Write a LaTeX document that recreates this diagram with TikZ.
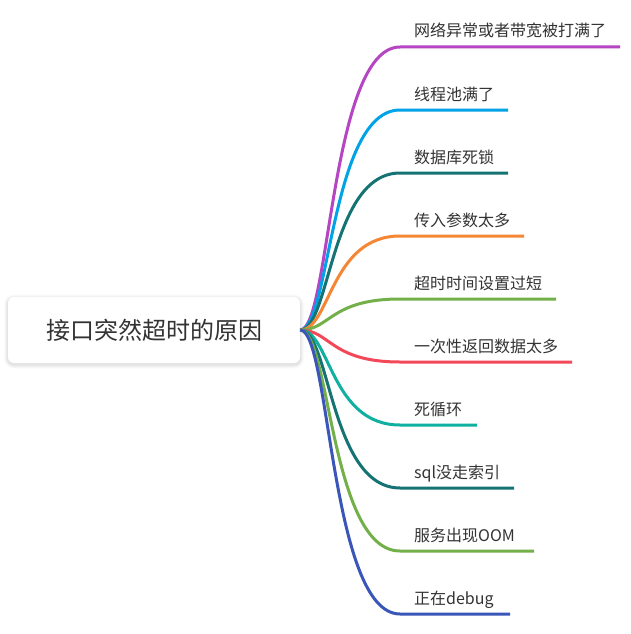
\documentclass[tikz,border=0pt]{standalone}
\usepackage{fontspec}
\setmainfont{Noto Sans CJK SC}
\definecolor{txt}{HTML}{333333}
\definecolor{c1}{HTML}{B545C2}
\definecolor{c2}{HTML}{00A3E6}
\definecolor{c3}{HTML}{167373}
\definecolor{c4}{HTML}{F58634}
\definecolor{c5}{HTML}{73B04A}
\definecolor{c6}{HTML}{F24858}
\definecolor{c7}{HTML}{0FB0A0}
\definecolor{c8}{HTML}{167373}
\definecolor{c9}{HTML}{73B04A}
\definecolor{c10}{HTML}{3A56B8}
\begin{document}
\begin{tikzpicture}[x=1pt,y=-1pt,
  rootbox/.style={rectangle,rounded corners=6pt,fill=white,minimum width=292pt,minimum height=66pt,inner sep=0pt,text=txt,font=\fontsize{24pt}{24pt}\selectfont},
  leaf/.style={anchor=base west,inner sep=0pt,text=txt,font=\fontsize{16pt}{16pt}\selectfont},
  branch/.style={line width=3pt}]
\useasboundingbox[fill=white] (0,0) rectangle (630,634);
% soft shadow
\foreach \k/\o in {4/0.02,3/0.025,2/0.03,1/0.035}{
  \fill[black,opacity=\o,rounded corners={6pt+\k pt}] (8-\k,297-\k+1.5) rectangle (300+\k,363+\k+1.5);
}
\node[rootbox] (root) at (154,330) {接口突然超时的原因};
\foreach \i/\y/\e in {1/47/620,2/110/508,3/173/508,4/236/524,5/299/556,6/362/572,7/425/477,8/488/514,9/551/534,10/614/510}{
  \coordinate (b\i) at (400,\y);
  \coordinate (e\i) at (\e,\y);
  \draw[branch,c\i] (root.east) .. controls +(30,0) and +(-70,0) .. (b\i) -- (e\i);
}
\node[leaf] (t1) at (414,37) {网络异常或者带宽被打满了};
\node[leaf] (t2) at (414,100) {线程池满了};
\node[leaf] (t3) at (414,163) {数据库死锁};
\node[leaf] (t4) at (414,226) {传入参数太多};
\node[leaf] (t5) at (414,289) {超时时间设置过短};
\node[leaf] (t6) at (414,352) {一次性返回数据太多};
\node[leaf] (t7) at (414,415) {死循环};
\node[leaf] (t8) at (414,478) {sql没走索引};
\node[leaf] (t9) at (414,541) {服务出现OOM};
\node[leaf] (t10) at (414,604) {正在debug};
\end{tikzpicture}
\end{document}
